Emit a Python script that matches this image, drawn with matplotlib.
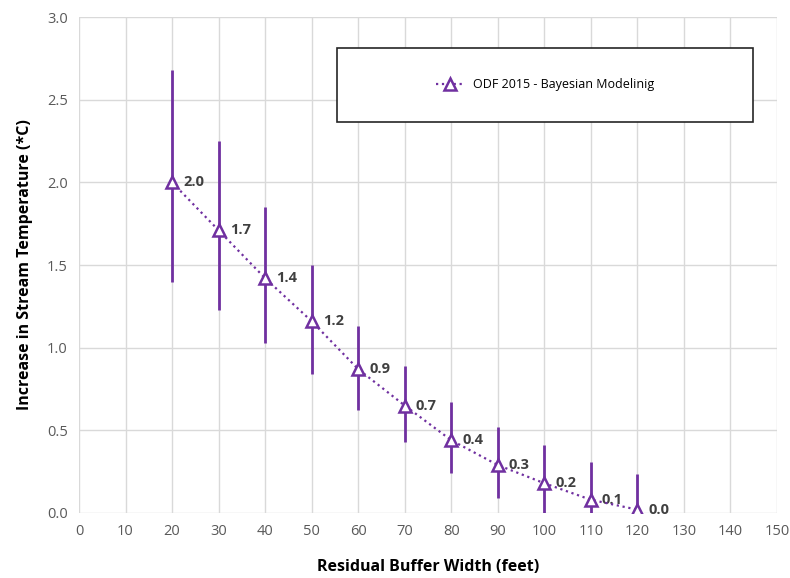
import numpy as np
import matplotlib.pyplot as plt
from matplotlib.patches import Rectangle

plt.rcParams['font.family'] = ['Open Sans', 'DejaVu Sans']

# data
width_ft = [20, 30, 40, 50, 60, 70, 80, 90, 100, 110, 120]
temp_inc = [2.00, 1.71, 1.42, 1.16, 0.87, 0.65, 0.44, 0.29, 0.18, 0.08, 0.02]
upper = [2.68, 2.25, 1.85, 1.50, 1.13, 0.89, 0.67, 0.52, 0.41, 0.31, 0.235]
lower = [1.40, 1.23, 1.03, 0.84, 0.62, 0.43, 0.24, 0.09, 0.0, 0.0, 0.0]
labels = ['2.0', '1.7', '1.4', '1.2', '0.9', '0.7', '0.4', '0.3', '0.2', '0.1', '0.0']

PURPLE = '#7030A0'
GRID = '#D9D9D9'

x = np.array(width_ft)
y = np.array(temp_inc)
yerr = [y - np.array(lower), np.array(upper) - y]

fig = plt.figure(figsize=(7.9, 5.78), dpi=100)
ax = fig.add_axes([0.1, 0.1125, 0.8835, 0.858])

ax.errorbar(x, y, yerr=yerr, fmt='none', ecolor=PURPLE, elinewidth=2, capsize=0, zorder=3)
ax.plot(x, y, linestyle=':', color=PURPLE, linewidth=1.6, marker='^',
        markersize=8.5, markerfacecolor='white', markeredgecolor=PURPLE,
        markeredgewidth=1.8, zorder=4, label='ODF 2015 - Bayesian Modelinig')

for xi, yi, lab in zip(x, y, labels):
    ax.annotate(lab, (xi, yi), xytext=(8, 0), textcoords='offset points',
                va='center', ha='left', fontsize=10.5, fontweight='bold', color='#404040')

ax.set_xlim(0, 150)
ax.set_ylim(0, 3.0)
ax.set_xticks(np.arange(0, 151, 10))
ax.set_yticks(np.arange(0, 3.01, 0.5))
ax.yaxis.set_major_formatter(plt.FormatStrFormatter('%.1f'))
ax.grid(True, color=GRID, linewidth=1)
ax.set_axisbelow(True)
for s in ax.spines.values():
    s.set_visible(False)
ax.tick_params(length=0, labelsize=10.5, labelcolor='#595959', pad=8)

ax.set_xlabel('Residual Buffer Width (feet)', fontsize=11.5, fontweight='bold', labelpad=14)
ax.set_ylabel('Increase in Stream Temperature (*C)', fontsize=11.5, fontweight='bold', labelpad=10)

# legend box
ax.add_patch(Rectangle((0.37, 0.788), 0.596, 0.15, transform=ax.transAxes,
                       facecolor='white', edgecolor='#262626', linewidth=1.2, zorder=5))
leg = ax.legend(loc='center', bbox_to_anchor=(0.668, 0.863), frameon=False,
                fontsize=9, handlelength=2.2, numpoints=1)
leg.set_zorder(6)

fig.savefig('out.png', dpi=100)
